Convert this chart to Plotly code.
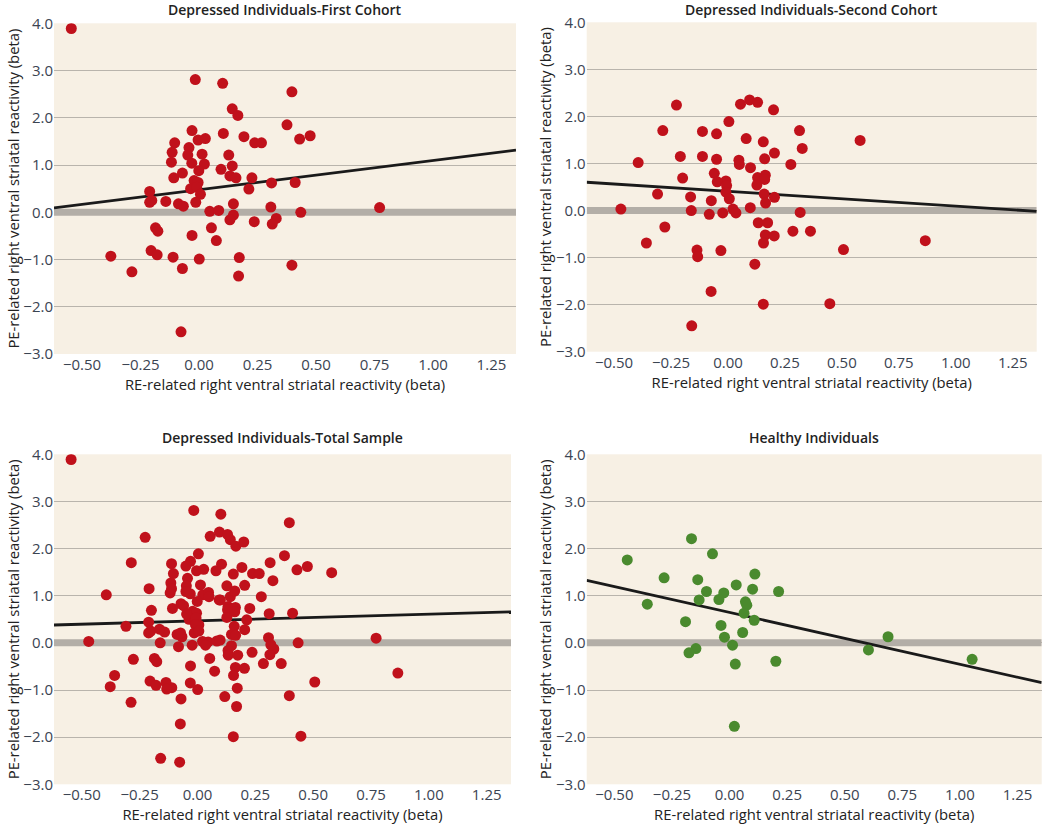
import plotly.graph_objects as go

# ---------------- data ----------------
first_x = [-0.546, -0.016, 0.101, 0.397, 0.142, 0.166, 0.376, -0.030, 0.104, 0.192,
           0.475, 0.430, -0.004, 0.027, 0.238, 0.267, -0.104, -0.043, -0.115, 0.013,
           -0.048, 0.127, -0.118, -0.031, 0.023, 0.142, 0.094, -0.001, -0.071, -0.108,
           0.132, 0.158, 0.226, -0.021, -0.004, 0.310, 0.411, -0.036, -0.010, 0.213,
           -0.211, 0.006, -0.211, -0.202, -0.142, -0.088, -0.067, -0.014, 0.147, 0.772,
           0.307, 0.046, 0.084, 0.435, 0.147, 0.132, 0.330, 0.313, 0.236, -0.186,
           -0.176, 0.053, -0.030, 0.074, -0.205, -0.179, -0.377, -0.111, 0.001, 0.172,
           0.397, -0.287, -0.071, 0.169, -0.077]
first_y = [3.89, 2.81, 2.73, 2.55, 2.19, 2.05, 1.85, 1.73, 1.67, 1.60,
           1.62, 1.55, 1.53, 1.56, 1.47, 1.47, 1.47, 1.37, 1.27, 1.23,
           1.21, 1.21, 1.06, 1.04, 1.02, 0.98, 0.91, 0.88, 0.83, 0.73,
           0.77, 0.73, 0.73, 0.67, 0.63, 0.62, 0.63, 0.50, 0.53, 0.49,
           0.44, 0.38, 0.21, 0.25, 0.23, 0.18, 0.13, 0.21, 0.18, 0.10,
           0.11, 0.02, 0.04, 0.00, -0.06, -0.16, -0.13, -0.25, -0.20, -0.33,
           -0.40, -0.33, -0.49, -0.60, -0.81, -0.90, -0.93, -0.95, -0.99, -0.96,
           -1.12, -1.26, -1.19, -1.35, -2.53]

second_x = [-0.226, 0.055, 0.095, 0.130, 0.200, 0.004, -0.286, -0.112, -0.050, 0.314,
            0.580, 0.080, 0.155, 0.326, 0.204, -0.209, -0.112, -0.050, 0.048, 0.161,
            -0.394, 0.050, 0.276, 0.099, -0.060, 0.130, 0.164, -0.199, 0.161, -0.009,
            -0.047, -0.006, 0.127, -0.009, 0.159, -0.309, -0.164, 0.204, 0.006, -0.073,
            0.165, -0.470, -0.161, 0.098, 0.022, 0.035, -0.023, -0.082, 0.317, 0.133,
            0.174, -0.277, 0.285, 0.362, 0.164, 0.203, 0.156, -0.358, 0.866, -0.136,
            -0.031, 0.507, -0.133, 0.118, -0.074, 0.155, 0.447, -0.159]
second_y = [2.24, 2.26, 2.35, 2.30, 2.14, 1.89, 1.70, 1.68, 1.63, 1.70,
            1.49, 1.53, 1.46, 1.32, 1.22, 1.15, 1.15, 1.09, 1.07, 1.10,
            1.02, 0.98, 0.98, 0.91, 0.79, 0.70, 0.75, 0.69, 0.66, 0.63,
            0.61, 0.53, 0.54, 0.39, 0.35, 0.35, 0.29, 0.28, 0.25, 0.21,
            0.16, 0.03, 0.00, 0.06, 0.03, -0.05, -0.05, -0.08, -0.04, -0.26,
            -0.26, -0.35, -0.44, -0.44, -0.52, -0.54, -0.69, -0.69, -0.64, -0.84,
            -0.85, -0.83, -0.98, -1.14, -1.72, -1.99, -1.98, -2.45]

total_x = first_x + second_x
total_y = first_y + second_y

healthy_x = [-0.444, -0.165, -0.074, -0.284, -0.138, 0.110, 0.029, 0.100, 0.213, -0.100,
             -0.025, -0.132, -0.046, 0.069, 0.075, -0.357, 0.063, 0.107, -0.191, -0.037,
             0.057, -0.022, 0.688, 0.013, -0.146, -0.176, 0.603, 0.025, 0.201, 1.053,
             0.021]
healthy_y = [1.76, 2.21, 1.89, 1.38, 1.34, 1.46, 1.23, 1.14, 1.09, 1.09,
             1.06, 0.91, 0.92, 0.87, 0.80, 0.82, 0.63, 0.48, 0.45, 0.37,
             0.22, 0.12, 0.13, -0.05, -0.12, -0.21, -0.15, -0.45, -0.39, -0.35,
             -1.77]

# regression lines (intercept, slope)
fit_first = (0.475, 0.619)
fit_second = (0.407, -0.313)
fit_total = (0.467, 0.142)
fit_healthy = (0.646, -1.10)

titles = ["Depressed Individuals-First Cohort", "Depressed Individuals-Second Cohort",
          "Depressed Individuals-Total Sample", "Healthy Individuals"]
x_tick_vals = [-0.5, -0.25, 0.0, 0.25, 0.5, 0.75, 1.0, 1.25]
x_tick_text = ["\u22120.50", "\u22120.25", "0.00", "0.25", "0.50", "0.75", "1.00", "1.25"]
y_tick_vals = [-3, -2, -1, 0, 1, 2, 3, 4]
y_tick_text = ["\u22123.0", "\u22122.0", "\u22121.0", "0.0", "1.0", "2.0", "3.0", "4.0"]
x_label = "RE-related right ventral striatal reactivity (beta)"
y_label = "PE-related right ventral striatal reactivity (beta)"

# ---------------- styling / layout ----------------
W, H = 1050, 831
RED = "#c0111b"
GREEN = "#4a8a2e"
BG = "#f7f0e4"
GRID = "#b9b4ac"
BAND = "#b3aea7"
FONT = "Open Sans"
XR = [-0.62, 1.355]
YR = [-3, 4]

panels = [
    dict(x=first_x, y=first_y, fit=fit_first, color=RED,
         px=(54, 516), py=(23.3, 354)),
    dict(x=second_x, y=second_y, fit=fit_second, color=RED,
         px=(586.7, 1036.7), py=(22.3, 351.7)),
    dict(x=total_x, y=total_y, fit=fit_total, color=RED,
         px=(54, 511), py=(454.3, 784.3)),
    dict(x=healthy_x, y=healthy_y, fit=fit_healthy, color=GREEN,
         px=(586.7, 1041.7), py=(454.3, 784.3)),
]

fig = go.Figure()
layout = dict(width=W, height=H, margin=dict(l=0, r=0, t=0, b=0, autoexpand=False),
              paper_bgcolor="white", plot_bgcolor=BG, showlegend=False,
              font=dict(family=FONT, color="#333"))
annotations = []

for i, p in enumerate(panels):
    n = i + 1
    xa = "x" if n == 1 else f"x{n}"
    ya = "y" if n == 1 else f"y{n}"
    xdom = [p["px"][0] / W, p["px"][1] / W]
    ydom = [1 - p["py"][1] / H, 1 - p["py"][0] / H]

    layout["xaxis" if n == 1 else f"xaxis{n}"] = dict(
        domain=xdom, anchor=ya, range=XR, showgrid=False, zeroline=False,
        showline=False, tickvals=x_tick_vals, ticktext=x_tick_text, ticks="",
        automargin=False,
        tickfont=dict(family=FONT, size=15, color="#3b4452"),
        title=dict(text=x_label, font=dict(family=FONT, size=14.8, color="#222"),
                   standoff=6),
        fixedrange=True)
    layout["yaxis" if n == 1 else f"yaxis{n}"] = dict(
        domain=ydom, anchor=xa, range=YR, showgrid=True, gridcolor=GRID,
        gridwidth=1.3, zeroline=False, showline=False,
        tickvals=y_tick_vals, ticktext=y_tick_text, ticks="",
        automargin=False,
        tickfont=dict(family=FONT, size=15, color="#3b4452"),
        title=dict(text=y_label, font=dict(family=FONT, size=14.8, color="#222"),
                   standoff=0),
        fixedrange=True)

    # zero band
    fig.add_trace(go.Scatter(x=XR, y=[0, 0], mode="lines",
                             line=dict(color=BAND, width=7),
                             xaxis=xa, yaxis=ya, hoverinfo="skip"))
    # regression line
    a, b = p["fit"]
    fig.add_trace(go.Scatter(x=XR, y=[a + b * XR[0], a + b * XR[1]],
                             mode="lines", line=dict(color="#1a1a1a", width=2.8),
                             xaxis=xa, yaxis=ya, hoverinfo="skip"))
    # points
    fig.add_trace(go.Scatter(x=p["x"], y=p["y"], mode="markers",
                             marker=dict(color=p["color"], size=11,
                                         line=dict(width=0)),
                             xaxis=xa, yaxis=ya))

    # panel title
    annotations.append(dict(text=titles[i], xref="paper", yref="paper",
                            x=(xdom[0] + xdom[1]) / 2,
                            y=1 - max(p["py"][0] - 17, 9) / H,
                            xanchor="center", yanchor="middle", showarrow=False,
                            font=dict(family=FONT, size=14, color="#222",
                                      weight=600)))

layout["annotations"] = annotations
fig.update_layout(**layout)
fig.write_html("out.html",
               config={"displayModeBar": False},
               post_script="document.body.style.margin='0';"
                           "document.body.style.overflow='hidden';")
